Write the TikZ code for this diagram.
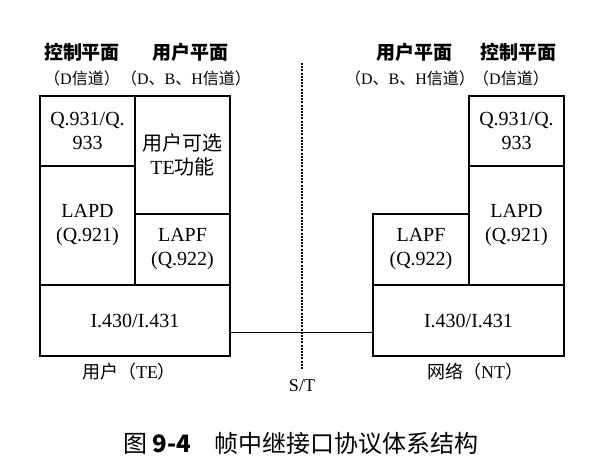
\documentclass[tikz,border=0pt]{standalone}
\usepackage{fontspec}
\setmainfont{Liberation Serif}
\newfontfamily\cjk{Noto Sans CJK SC}
\newcommand{\zh}[1]{{\cjk #1}}
\usetikzlibrary{calc, positioning}

\begin{document}
\begin{tikzpicture}[x=1pt, y=-1pt,
  layer/.style={draw, line width=1.6pt, inner sep=0pt, align=center, minimum width=95pt, font=\fontsize{20}{24}\selectfont},
  plane/.style={font=\fontsize{19}{22}\selectfont\bfseries\cjk},
  chan/.style={font=\fontsize{16}{18}\selectfont},
  tag/.style={font=\fontsize{18}{20}\selectfont}]
\useasboundingbox (0,0) rectangle (611,476);
\node[plane] (lctl) at (82,52) {控制平面};
\node[plane] (lusr) at (190,52) {用户平面};
\node[plane] (rusr) at (414,52) {用户平面};
\node[plane] (rctl) at (518,52) {控制平面};
\node[chan] (lctlch) at (82,78) {\zh{（}D\zh{信道）}};
\node[chan] (lusrch) at (186,78) {\zh{（}D\zh{、}B\zh{、}H\zh{信道）}};
\node[chan] (rusrch) at (410,78) {\zh{（}D\zh{、}B\zh{、}H\zh{信道）}};
\node[chan] (rctlch) at (511,78) {\zh{（}D\zh{信道）}};
\node[layer, minimum height=70pt] (lsig) at (87.5,131) {Q.931/Q.\\933};
\node[layer, minimum height=118pt] (lopt) at (182.5,155) {\zh{用户可选}\\TE\zh{功能}};
\node[layer, minimum height=119pt] (llapd) at (87.5,225.5) {LAPD\\(Q.921)};
\node[layer, minimum height=71pt] (llapf) at (182.5,249.5) {LAPF\\(Q.922)};
\node[layer, minimum width=190pt, minimum height=71pt] (lphy) at (135,320.5) {I.430/I.431};
\node[layer, minimum height=70pt] (rsig) at (516.5,131) {Q.931/Q.\\933};
\node[layer, minimum height=119pt] (rlapd) at (516.5,225.5) {LAPD\\(Q.921)};
\node[layer, minimum width=96pt, minimum height=71pt] (rlapf) at (421,249.5) {LAPF\\(Q.922)};
\node[layer, minimum width=191pt, minimum height=71pt] (rphy) at (468.5,320.5) {I.430/I.431};
\node[tag] (te) at (129,372) {\zh{用户（}TE\zh{）}};
\node[tag] (nt) at (475,372) {\zh{网络（}NT\zh{）}};
\node[tag] (st) at (302,386) {S/T};
\coordinate (sttop) at (302,63);
\coordinate (stbot) at (302,369);
\draw[dash pattern=on 2pt off 1.2pt, line width=1.1pt] (sttop) -- (stbot);
\draw[line width=1.2pt] ([yshift=-12pt]lphy.east) -- ([yshift=-12pt]rphy.west);
\node[font=\fontsize{24}{26}\selectfont\cjk] (cap) at (301,443) {图~\textbf{9-4}\quad 帧中继接口协议体系结构};
\end{tikzpicture}
\end{document}
